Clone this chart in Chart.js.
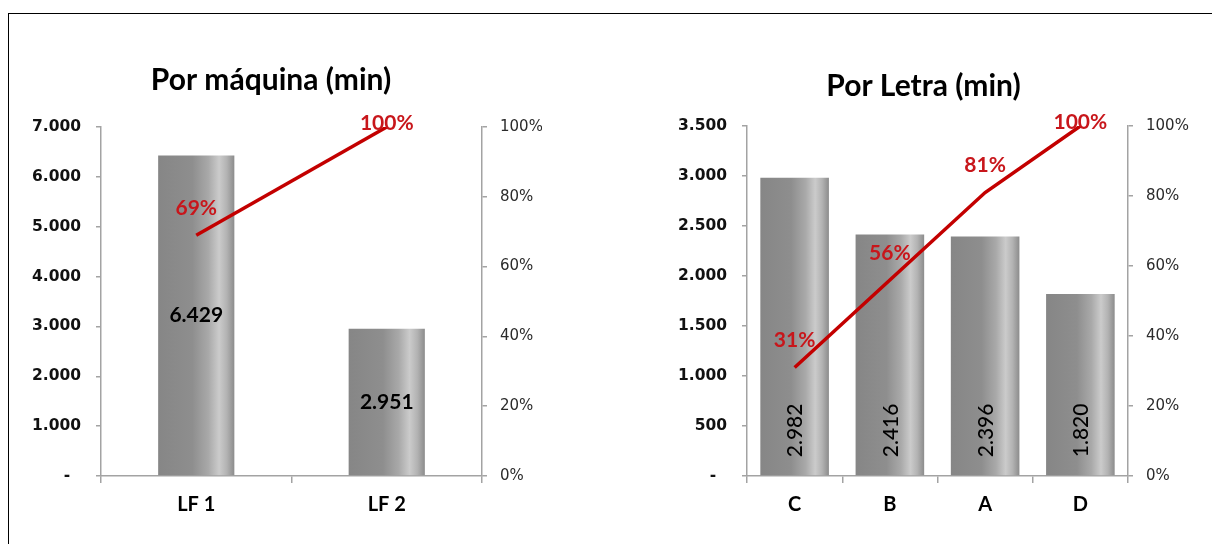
<!DOCTYPE html>
<html>
<head>
<meta charset="utf-8">
<title>Tiempos por máquina y por letra</title>
<script src="https://cdn.jsdelivr.net/npm/chart.js@4.4.1/dist/chart.umd.min.js"></script>
<style>
  html, body { margin: 0; padding: 0; background: #fff; overflow: hidden; }
  body { width: 1212px; height: 544px; position: relative; }
  #frame { position: absolute; left: 8px; top: 13px; width: 1220px; height: 560px;
           border-top: 1px solid #000; border-left: 1px solid #000; }
  .panel { position: absolute; top: 0; width: 606px; height: 544px; }
  canvas { display: block; }
</style>
</head>
<body>
<div id="frame"></div>
<div class="panel" style="left:0"><canvas id="porMaquina" width="606" height="544"></canvas></div>
<div class="panel" style="left:606px"><canvas id="porLetra" width="606" height="544"></canvas></div>

<script>
// ---- data: minutes per machine ----
const machineLabels = ['LF 1', 'LF 2'];
const machineMinutes = [6429, 2951];
const machineCumPct = [69, 100];
const machineTicks = ['-  ', '1.000', '2.000', '3.000', '4.000', '5.000', '6.000', '7.000'];

// ---- data: minutes per letter ----
const letterLabels = ['C', 'B', 'A', 'D'];
const letterMinutes = [2982, 2416, 2396, 1820];
const letterCumPct = [31, 56, 81, 100];
const letterTicks = ['-  ', '500', '1.000', '1.500', '2.000', '2.500', '3.000', '3.500'];

// ---- shared percentage axis ----
const pctTicks = ['0%', '20%', '40%', '60%', '80%', '100%'];

const AXIS = '#a3a3a3';
const RED_LINE = '#C30000';
const RED_TEXT = '#C8161B';
const CAL = 'Lato, "Open Sans", sans-serif';
const TICKFONT = '"DejaVu Sans", Verdana, sans-serif';

// thousands separated with a dot
function fmtThousands(n) {
  return String(n).replace(/\B(?=(\d{3})+(?!\d))/g, '.');
}

// cylinder-like horizontal shading for each bar
function barFill(ctx, pct) {
  const chart = ctx.chart;
  const xs = chart.scales && chart.scales.x;
  if (!xs || ctx.dataIndex == null || !chart.chartArea) return '#8e8e8e';
  const cx = xs.getPixelForValue(ctx.dataIndex);
  const w = (xs.width / chart.data.labels.length) * pct;
  const g = chart.ctx.createLinearGradient(cx - w / 2, 0, cx + w / 2, 0);
  g.addColorStop(0.00, '#868686');
  g.addColorStop(0.45, '#8e8e8e');
  g.addColorStop(0.66, '#a9a9a9');
  g.addColorStop(0.80, '#cbcbcb');
  g.addColorStop(0.90, '#b3b3b3');
  g.addColorStop(1.00, '#8c8c8c');
  return g;
}

// value labels on bars and cumulative labels on the line
const paretoLabels = {
  id: 'paretoLabels',
  afterDatasetsDraw(chart, args, opts) {
    const c = chart.ctx;
    const lineMeta = chart.getDatasetMeta(0);
    const barMeta = chart.getDatasetMeta(1);
    const barData = chart.data.datasets[1].data;
    const cumData = chart.data.datasets[0].data;
    c.save();
    c.fillStyle = '#000';
    barMeta.data.forEach((bar, i) => {
      const txt = fmtThousands(barData[i]);
      if (opts.rotated) {
        c.save();
        c.font = '500 21px ' + CAL;
        c.translate(bar.x + 1, bar.base - 18);
        c.rotate(-Math.PI / 2);
        c.textAlign = 'left';
        c.textBaseline = 'middle';
        c.fillText(txt, 0, 0);
        c.restore();
      } else {
        c.font = '700 21px ' + CAL;
        c.textAlign = 'center';
        c.textBaseline = 'middle';
        c.fillText(txt, bar.x, (bar.y + bar.base) / 2);
      }
    });
    c.font = '700 21px ' + CAL;
    c.fillStyle = RED_TEXT;
    c.textAlign = 'center';
    c.textBaseline = 'middle';
    lineMeta.data.forEach((pt, i) => {
      const y = Math.max(pt.y - 27, chart.chartArea.top - 4);
      c.fillText(cumData[i] + '%', pt.x, y);
    });
    c.restore();
  }
};

function paretoChart(id, cfg) {
  return new Chart(document.getElementById(id), {
    type: 'bar',
    data: {
      labels: cfg.labels,
      datasets: [
        {
          type: 'line',
          data: cfg.cum,
          yAxisID: 'y1',
          borderColor: RED_LINE,
          borderWidth: 3.5,
          pointRadius: 0,
          tension: 0,
          order: 0
        },
        {
          type: 'bar',
          data: cfg.values,
          yAxisID: 'y',
          backgroundColor: (ctx) => barFill(ctx, cfg.barPct),
          borderWidth: 0,
          categoryPercentage: 1,
          barPercentage: cfg.barPct,
          order: 1
        }
      ]
    },
    options: {
      responsive: false,
      animation: false,
      layout: { padding: cfg.padding },
      plugins: {
        legend: { display: false },
        tooltip: { enabled: false },
        title: {
          display: true,
          text: cfg.title,
          color: '#000',
          font: { family: CAL, size: 30, weight: '700' },
          padding: cfg.titlePad
        },
        paretoLabels: { rotated: cfg.rotated }
      },
      scales: {
        x: {
          grid: { display: true, drawOnChartArea: false, drawTicks: true, tickLength: 7, color: AXIS, lineWidth: 1.5, offset: true },
          border: { color: AXIS, width: 1.5 },
          ticks: { color: '#000', font: { family: CAL, size: 20, weight: '700' }, padding: 10 },
          afterFit: (s) => { s.height = 68; }
        },
        y: {
          position: 'left',
          min: 0, max: cfg.max,
          grid: { drawOnChartArea: false, tickLength: 5, color: AXIS, lineWidth: 1.5 },
          border: { color: AXIS, width: 1.5 },
          ticks: {
            stepSize: cfg.step,
            color: '#111',
            font: { family: TICKFONT, size: 15.5, weight: '700' },
            padding: 15,
            callback: (v, i) => cfg.ticks[i]
          },
          afterFit: (s) => { s.width = cfg.yWidth; }
        },
        y1: {
          position: 'right',
          min: 0, max: 100,
          grid: { drawOnChartArea: false, tickLength: 5, color: AXIS, lineWidth: 1.5 },
          border: { color: AXIS, width: 1.5 },
          ticks: {
            stepSize: 20,
            color: '#2b2b2b',
            font: { family: TICKFONT, size: 15 },
            padding: 13,
            callback: (v, i) => pctTicks[i]
          },
          afterFit: (s) => { s.width = cfg.y1Width; }
        }
      }
    },
    plugins: [paretoLabels]
  });
}

function drawAll() {
  paretoChart('porMaquina', {
    title: 'Por máquina (min)',
    labels: machineLabels, values: machineMinutes, cum: machineCumPct, ticks: machineTicks,
    max: 7000, step: 1000, barPct: 0.4, rotated: false,
    padding: { left: 0, right: 64, top: 0, bottom: 0 },
    titlePad: { top: 62, bottom: 29 },
    yWidth: 101, y1Width: 60
  });
  paretoChart('porLetra', {
    title: 'Por Letra (min)',
    labels: letterLabels, values: letterMinutes, cum: letterCumPct, ticks: letterTicks,
    max: 3500, step: 500, barPct: 0.72, rotated: true,
    padding: { left: 29, right: 0, top: 0, bottom: 0 },
    titlePad: { top: 68, bottom: 22 },
    yWidth: 112, y1Width: 84
  });
}

const fontLoads = [
  '700 30px Lato', '700 21px Lato', '500 21px Lato',
  '700 15px "DejaVu Sans"', '15px "DejaVu Sans"'
].map(f => document.fonts.load(f).catch(() => null));
Promise.all(fontLoads).then(drawAll, drawAll);
</script>
</body>
</html>
